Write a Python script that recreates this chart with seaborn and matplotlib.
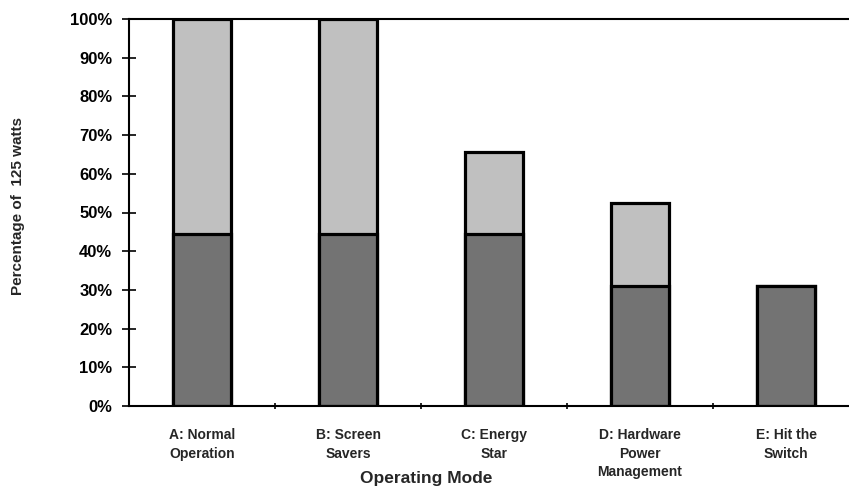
import numpy as np
import pandas as pd
import matplotlib
matplotlib.use("Agg")
import matplotlib.pyplot as plt
import seaborn as sns

# data (percent of 125 watts)
modes = ["A: Normal\nOperation", "B: Screen\nSavers", "C: Energy\nStar",
         "D: Hardware\nPower\nManagement", "E: Hit the\nSwitch"]
base_pct = [44.4, 44.4, 44.4, 31.1, 31.1]
total_pct = [100.0, 100.0, 65.6, 52.5, 31.1]
yticks = [0, 10, 20, 30, 40, 50, 60, 70, 80, 90, 100]

df = pd.DataFrame({"mode": modes, "base": base_pct, "total": total_pct})

sns.set_style("white")
plt.rcParams["font.family"] = ["Liberation Sans", "DejaVu Sans"]

fig = plt.figure(figsize=(8.49, 4.88), dpi=100)
ax = fig.add_axes([129 / 849, 1 - 406 / 488, 730 / 849, 387 / 488])

# light part = total, dark part drawn over it
sns.barplot(data=df, x="mode", y="total", color="#c0c0c0", edgecolor="black",
            linewidth=2.3, width=0.4, saturation=1, ax=ax)
sns.barplot(data=df, x="mode", y="base", color="#737373", edgecolor="black",
            linewidth=2.3, width=0.4, saturation=1, ax=ax)

ax.set_xlim(-0.5, 4.5)
ax.set_ylim(0, 100)
ax.set_yticks(yticks)
ax.set_yticklabels([f"{v}%" for v in yticks], fontsize=12, fontweight="bold")
ax.tick_params(axis="y", left=True, direction="inout", length=10, width=1.2,
               pad=7, colors="black")

ax.set_xticks(range(len(modes)))
ax.set_xticklabels(modes, fontsize=10, fontweight="bold", linespacing=1.4)
ax.tick_params(axis="x", which="major", bottom=True, length=0, pad=16)
ax.set_xticks(np.arange(0.5, 4.5, 1.0), minor=True)
ax.tick_params(axis="x", which="minor", bottom=True, direction="inout", length=5,
               width=1.2, color="black")

for side in ["left", "bottom", "top", "right"]:
    ax.spines[side].set_visible(True)
    ax.spines[side].set_color("black")
    ax.spines[side].set_linewidth(1.5)

ax.set_xlabel("")
ax.set_ylabel("")
fig.text(426 / 849, 1 - 479 / 488, "Operating Mode", ha="center", va="center",
         fontsize=12.5, fontweight="bold")
fig.text(18 / 849, 1 - 206 / 488, "Percentage of  125 watts", ha="center", va="center",
         rotation=90, fontsize=11, fontweight="bold")

fig.savefig("out.png", dpi=100)
